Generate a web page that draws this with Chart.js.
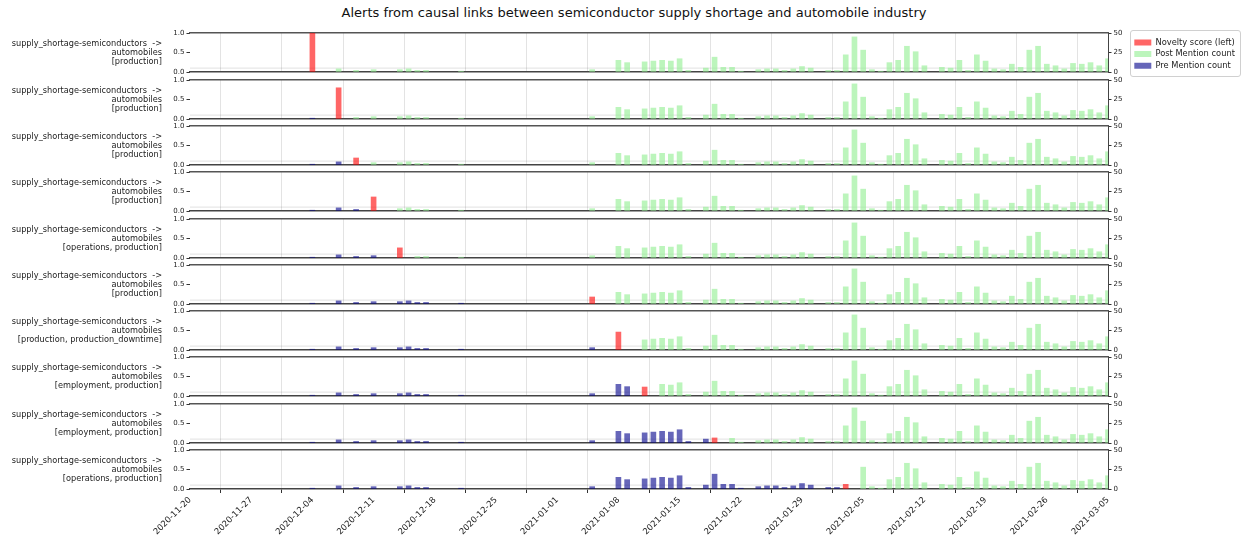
<!DOCTYPE html>
<html><head><meta charset="utf-8">
<script src="https://cdn.jsdelivr.net/npm/chart.js@4.4.1/dist/chart.umd.min.js"></script>
<style>
body{margin:0;background:#fff;width:1241px;height:538px;overflow:hidden;position:relative;font-family:"DejaVu Sans",sans-serif;}
#title{position:absolute;left:0;width:1268px;top:5px;text-align:center;font-size:13px;color:#111;white-space:nowrap;}
.ylab{position:absolute;right:1079px;text-align:right;font-size:8.2px;line-height:9.3px;color:#222;white-space:pre;}
canvas{position:absolute;left:0;}
#legendBox{position:absolute;left:1130px;top:30px;width:109px;height:45px;border:1px solid #d0d0d0;border-radius:3px;background:#fff;}
#legendBox canvas{position:absolute;left:0;top:0;}
</style></head><body>
<div id="title">Alerts from causal links between semiconductor supply shortage and automobile industry</div>
<div id="legendBox"><canvas id="leg" width="109" height="45"></canvas></div>
<script>
// ---- data ----
const tickLabels = ['2020-11-20','2020-11-27','2020-12-04','2020-12-11','2020-12-18','2020-12-25','2021-01-01','2021-01-08','2021-01-15','2021-01-22','2021-01-29','2021-02-05','2021-02-12','2021-02-19','2021-02-26','2021-03-05'];
const countDates = ['2020-12-04','2020-12-07','2020-12-09','2020-12-11','2020-12-14','2020-12-15','2020-12-16','2020-12-17','2020-12-21',
  '2021-01-05','2021-01-08','2021-01-09','2021-01-11','2021-01-12','2021-01-13','2021-01-14','2021-01-15','2021-01-16','2021-01-18','2021-01-19','2021-01-20','2021-01-21','2021-01-22',
  '2021-01-24','2021-01-25','2021-01-26','2021-01-27','2021-01-28','2021-01-29','2021-01-30','2021-02-01','2021-02-02','2021-02-03','2021-02-04','2021-02-05','2021-02-06','2021-02-07',
  '2021-02-08','2021-02-09','2021-02-10','2021-02-11','2021-02-12','2021-02-14','2021-02-15','2021-02-16','2021-02-17','2021-02-18','2021-02-19','2021-02-20','2021-02-21','2021-02-22',
  '2021-02-23','2021-02-24','2021-02-25','2021-02-26','2021-02-27','2021-02-28','2021-03-01','2021-03-02','2021-03-03','2021-03-04','2021-03-05'];
const countValues = [1,4,2,3,3,4,2,2,1,
  3,15,12,13,14,15,14,17,2,5,19,6,6,1,
  3,4,4,2,4,7,5,2,2,22,45,28,3,1,
  12,15,33,26,8,6,5,15,2,22,14,4,3,10,
  6,28,33,10,8,4,11,10,12,8,17];
const alertDates = ['2020-12-04','2020-12-07','2020-12-09','2020-12-11','2020-12-14','2021-01-05','2021-01-08','2021-01-11','2021-01-19','2021-02-03'];
const noveltyScores = [1.0,0.8,0.18,0.36,0.26,0.18,0.46,0.23,0.13,0.12];
const panelTags = ['[production]','[production]','[production]','[production]','[operations, production]','[production]','[production, production_downtime]','[employment, production]','[employment, production]','[operations, production]'];
const linkLines = ['supply_shortage-semiconductors  ->','automobiles'];
const seriesNames = ['Novelty score (left)','Post Mention count','Pre Mention count'];
const noveltyThreshold = 0.1;

// ---- styling / layout ----
const RED='rgba(255,0,0,0.6)', GREEN='rgba(144,238,144,0.6)', BLUE='rgba(0,0,139,0.6)';
const START = Date.parse(tickLabels[0]);
const dayIdx = d => Math.round((Date.parse(d)-START)/86400000);
const XMAX = dayIdx(tickLabels[tickLabels.length-1]);
const PANEL_TOP0 = 33.3, PANEL_STEP = 46.3, PANEL_H = 39, PAD = 8, XAX_H = 48;
const tickFont = {family:'DejaVu Sans', size:7};

const thresholdLine = {
  id:'threshold',
  beforeDatasetsDraw(chart){
    const y = chart.scales.yL.getPixelForValue(noveltyThreshold);
    const a = chart.chartArea, ctx = chart.ctx;
    ctx.save(); ctx.strokeStyle='rgba(0,0,0,0.12)'; ctx.lineWidth=1;
    ctx.beginPath(); ctx.moveTo(a.left,y); ctx.lineTo(a.right,y); ctx.stroke(); ctx.restore();
  }
};

for (let k=0;k<alertDates.length;k++){
  const last = k===alertDates.length-1;
  const top = Math.round(PANEL_TOP0 + k*PANEL_STEP) - PAD;
  const h = PAD + PANEL_H + (last ? XAX_H : PAD);
  const cv = document.createElement('canvas');
  cv.width = 1241; cv.height = h; cv.style.top = top+'px';
  document.body.appendChild(cv);

  const lab = document.createElement('div');
  lab.className='ylab';
  lab.textContent = linkLines.concat([panelTags[k]]).join('\n');
  lab.style.top = (top + PAD + PANEL_H/2 - 14) + 'px';
  document.body.appendChild(lab);

  const a = dayIdx(alertDates[k]);
  const pre = [], post = [];
  countDates.forEach((d,i)=>{
    const x = dayIdx(d);
    if (x < a) pre.push({x, y: countValues[i]});
    else if (x > a+1) post.push({x, y: countValues[i]});
  });
  const nov = [{x:a, y:noveltyScores[k]}];

  new Chart(cv, {
    type:'bar',
    data:{datasets:[
      {label:seriesNames[0], data:nov, xAxisID:'x', yAxisID:'yL', backgroundColor:RED, grouped:false, barThickness:5},
      {label:seriesNames[1], data:post, xAxisID:'x', yAxisID:'yR', backgroundColor:GREEN, grouped:false, barThickness:5},
      {label:seriesNames[2], data:pre, xAxisID:'x', yAxisID:'yR', backgroundColor:BLUE, grouped:false, barThickness:5}
    ]},
    options:{
      responsive:false, animation:false, devicePixelRatio:1,
      layout:{padding:{left:160, right:108, top:PAD, bottom: last?0:PAD}},
      plugins:{legend:{display:false}, tooltip:{enabled:false}},
      scales:{
        x:{type:'linear', position:'bottom', min:0, max:XMAX, offset:false,
           ticks:{display:last, stepSize:7, autoSkip:false, maxRotation:45, minRotation:45, font:{family:'DejaVu Sans', size:8.5}, color:'#222', padding:2,
                  callback:(v)=>tickLabels[Math.round(v/7)]},
           grid:{display:true, color:'rgba(0,0,0,0.11)', lineWidth:1, drawTicks:last, tickLength:4, tickColor:'#333'},
           border:{display:true, color:'#444', width:1.5},
           afterFit:(s)=>{ s.height = last ? XAX_H : 0; }},
        xTop:{type:'linear', position:'top', min:0, max:XMAX, display:true,
           ticks:{display:false}, grid:{display:false, drawTicks:false},
           border:{display:true, color:'#555', width:1.5},
           afterFit:(s)=>{ s.height = 0; }},
        yL:{position:'left', min:0, max:1,
           ticks:{stepSize:0.5, font:tickFont, color:'#222', padding:2, callback:(v)=>v.toFixed(1)},
           grid:{drawOnChartArea:false, tickLength:3.5, tickColor:'#333'},
           border:{display:false},
           afterFit:(s)=>{ s.width = 30; }},
        yR:{position:'right', min:0, max:50,
           ticks:{stepSize:25, font:tickFont, color:'#222', padding:2},
           grid:{drawOnChartArea:false, tickLength:3.5, tickColor:'#333'},
           border:{display:true, color:'#444', width:1},
           afterFit:(s)=>{ s.width = 25; }}
      }
    },
    plugins:[thresholdLine]
  });
}

// legend (drawn by Chart.js legend plugin)
new Chart(document.getElementById('leg'), {
  type:'bar',
  data:{datasets:[
    {label:seriesNames[0], data:[], backgroundColor:RED},
    {label:seriesNames[1], data:[], backgroundColor:GREEN},
    {label:seriesNames[2], data:[], backgroundColor:BLUE}
  ]},
  options:{
    responsive:false, animation:false, devicePixelRatio:1,
    layout:{padding:{top:4, left:0, right:0, bottom:0}},
    scales:{x:{display:false}, y:{display:false}},
    plugins:{tooltip:{enabled:false},
      legend:{display:true, position:'top', align:'start', maxHeight:45, maxWidth:109,
        labels:{boxWidth:17, boxHeight:6, padding:3.3, color:'#222', font:{family:'DejaVu Sans', size:8.3}}}}
  }
});
</script>
</body></html>
